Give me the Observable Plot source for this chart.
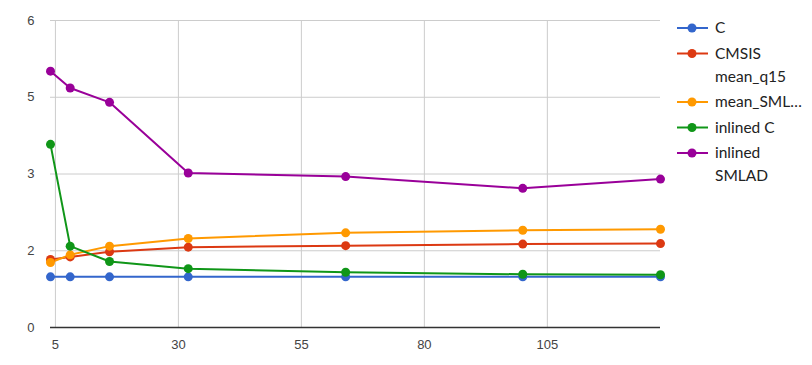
<!DOCTYPE html>
<html>
<head>
<meta charset="utf-8">
<script src="https://cdn.jsdelivr.net/npm/d3@7"></script>
<script src="https://cdn.jsdelivr.net/npm/@observablehq/plot@0.6"></script>
<style>
  html, body { margin: 0; padding: 0; background: #fff; }
  #wrap { position: relative; width: 812px; height: 365px; }
  #legend { position: absolute; left: 0; top: 0; }
</style>
</head>
<body>
<div id="wrap"></div>
<script>
const xValues = [4, 8, 16, 32, 64, 100, 128];
const seriesNames = ["C", "CMSIS mean_q15", "mean_SMLAD", "inlined C", "inlined SMLAD"];
const legendLines = [["C"], ["CMSIS", "mean_q15"], ["mean_SML…"], ["inlined C"], ["inlined", "SMLAD"]];
const seriesColors = ["#3366cc", "#dc3912", "#ff9900", "#109618", "#990099"];
const cValues = [0.99, 0.99, 0.99, 0.99, 0.99, 0.99, 0.99];
const cmsisQ15Values = [1.33, 1.38, 1.48, 1.57, 1.60, 1.63, 1.64];
const meanSmladValues = [1.27, 1.42, 1.59, 1.74, 1.85, 1.90, 1.92];
const inlinedCValues = [3.58, 1.59, 1.29, 1.15, 1.08, 1.04, 1.03];
const inlinedSmladValues = [5.01, 4.68, 4.40, 3.02, 2.95, 2.72, 2.90];
const xTicks = [5, 30, 55, 80, 105];
const yTicks = [0, 1.5, 3, 4.5, 6];
const yTickLabels = ["0", "2", "3", "5", "6"];

const allValues = [cValues, cmsisQ15Values, meanSmladValues, inlinedCValues, inlinedSmladValues];
const data = [];
seriesNames.forEach((name, i) => {
  xValues.forEach((x, j) => data.push({series: name, x, y: allValues[i][j]}));
});

const font = "'Liberation Sans', Arial, sans-serif";
const legendFont = "Lato, 'Liberation Sans', sans-serif";

const chart = Plot.plot({
  width: 812,
  height: 365,
  marginLeft: 50,
  marginRight: 152,
  marginTop: 20,
  marginBottom: 38,
  style: {fontFamily: font, fontSize: "13px", background: "#fff", overflow: "visible"},
  x: {domain: [4, 128], ticks: xTicks, label: null},
  y: {domain: [0, 6], ticks: yTicks, label: null},
  color: {domain: seriesNames, range: seriesColors},
  marks: [
    Plot.gridX(xTicks, {stroke: "#cccccc", strokeOpacity: 1}),
    Plot.gridY(yTicks.filter(d => d > 0), {stroke: "#cccccc", strokeOpacity: 1}),
    Plot.ruleY([0], {stroke: "#333", strokeWidth: 1.5}),
    Plot.axisX({ticks: xTicks, tickSize: 0, tickPadding: 12, fill: "#444", fontSize: 13, label: null}),
    Plot.axisY({ticks: yTicks, tickSize: 0, tickPadding: 16, fill: "#444", fontSize: 13, label: null,
      tickFormat: d => yTickLabels[yTicks.indexOf(d)]}),
    Plot.line(data, {x: "x", y: "y", z: "series", stroke: "series", strokeWidth: 2}),
    Plot.dot(data, {x: "x", y: "y", fill: "series", r: 4.5})
  ]
});

const wrap = document.getElementById("wrap");
wrap.appendChild(chart);

// Legend overlay
const legend = d3.select(wrap).append("svg")
  .attr("id", "legend")
  .attr("width", 812).attr("height", 365)
  .style("font-family", legendFont).style("font-size", "15.5px");

let yPos = 28;
seriesNames.forEach((name, i) => {
  const g = legend.append("g");
  g.append("line").attr("x1", 677).attr("x2", 708).attr("y1", yPos).attr("y2", yPos)
    .attr("stroke", seriesColors[i]).attr("stroke-width", 2);
  g.append("circle").attr("cx", 692).attr("cy", yPos).attr("r", 4.5).attr("fill", seriesColors[i]);
  legendLines[i].forEach((t, k) => {
    g.append("text").attr("x", 715).attr("y", yPos + k * 23).attr("dy", "0.35em")
      .attr("fill", "#222").text(t);
  });
  yPos += 25.5 + (legendLines[i].length - 1) * 23;
});
</script>
</body>
</html>
